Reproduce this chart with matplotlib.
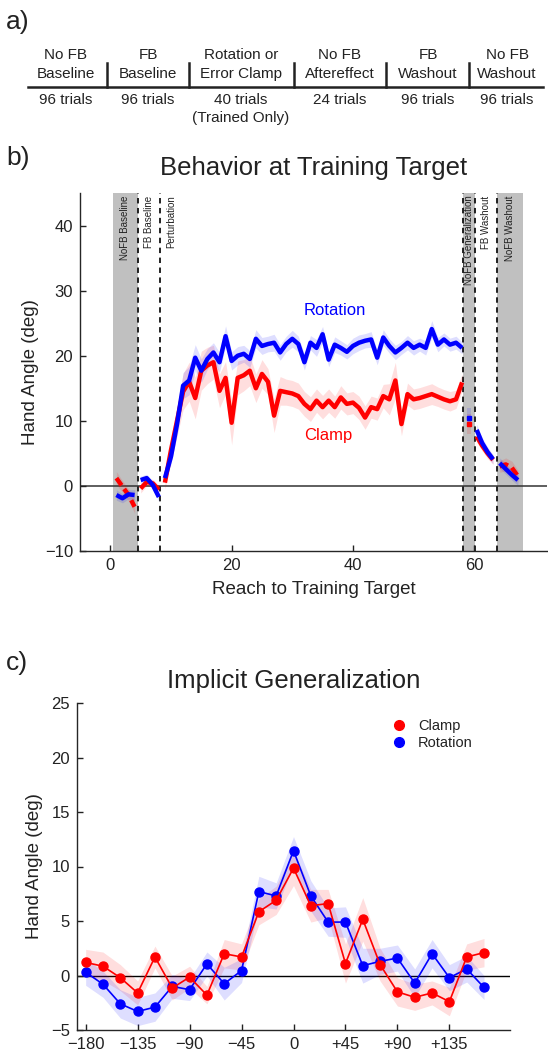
import numpy as np
import matplotlib
matplotlib.use("Agg")
import matplotlib.pyplot as plt
from matplotlib.lines import Line2D

plt.rcParams['font.family'] = ['Liberation Sans', 'DejaVu Sans']
plt.rcParams['text.color'] = '#222222'
plt.rcParams['axes.labelcolor'] = '#222222'
plt.rcParams['xtick.color'] = '#222222'
plt.rcParams['ytick.color'] = '#222222'

W, H = 548, 1055

# --- a) session schedule ---
phase_top = ["No FB", "FB", "Rotation or", "No FB", "FB", "No FB"]
phase_bottom = ["Baseline", "Baseline", "Error Clamp", "Aftereffect", "Washout", "Washout"]
phase_trials = [96, 96, 40, 24, 96, 96]

# --- b) reaches to the training target ---
base_x = [1, 2, 3, 4]
rot_base = [-1.4, -1.9, -1.3, -1.4]
clamp_base = [1.2, -0.1, -1.4, -3.2]
rot_base_sem = [0.8, 0.7, 0.7, 0.8]
clamp_base_sem = [1.0, 0.9, 0.9, 1.0]

fbbase_x = [5, 6, 7, 8]
rot_fbbase = [0.9, 1.2, 0.15, -1.7]
clamp_fbbase = [-0.4, 0.6, 0.4, -0.6]
rot_fbbase_sem = [0.6, 0.6, 0.6, 0.7]
clamp_fbbase_sem = [0.7, 0.6, 0.6, 0.7]

pert_x = np.arange(9, 59)
rot_pert = [1.2, 4.5, 9.5, 15.4, 16.2, 19.7, 17.7, 19.5, 20.5, 19.0,
            23.0, 19.2, 20.0, 20.3, 19.5, 22.6, 21.5, 21.8, 22.0, 20.5,
            21.8, 22.6, 21.8, 19.0, 22.0, 21.2, 23.3, 19.4, 21.7, 21.2,
            20.6, 21.5, 22.0, 22.3, 22.5, 19.7, 22.8, 21.5, 20.5, 21.2,
            22.0, 21.2, 21.7, 21.2, 24.1, 21.7, 22.5, 21.7, 22.0, 21.2]
clamp_pert = [0.5, 5.5, 10.0, 14.5, 16.0, 13.5, 17.7, 18.5, 19.0, 14.6,
              16.6, 9.7, 16.6, 17.0, 17.7, 15.0, 17.2, 16.0, 10.8, 14.6,
              14.4, 14.2, 13.8, 12.6, 11.8, 13.1, 12.1, 13.1, 12.1, 13.6,
              12.6, 12.8, 12.0, 10.5, 12.1, 11.8, 13.8, 13.3, 16.2, 9.5,
              14.1, 13.3, 13.5, 13.8, 14.1, 13.7, 13.3, 13.0, 13.3, 15.9]
rot_pert_sem = [0.8, 1.2, 1.6, 2.0, 2.2, 2.0, 1.8, 1.6, 1.5, 1.5,
                1.6, 1.4, 1.4, 1.3, 1.3, 1.4, 1.3, 1.2, 1.3, 1.2,
                1.2, 1.3, 1.2, 1.2, 1.1, 1.3, 1.2, 1.1, 1.2, 1.1,
                1.1, 1.2, 1.2, 1.1, 1.2, 1.1, 1.2, 1.1, 1.1, 1.0,
                1.1, 1.1, 1.0, 1.1, 1.3, 1.1, 1.0, 1.0, 1.0, 0.9]
clamp_pert_sem = [1.0, 1.8, 2.4, 2.8, 3.0, 3.2, 3.0, 2.8, 2.6, 2.6,
                  2.5, 3.4, 2.6, 2.4, 2.3, 2.2, 2.2, 2.0, 2.6, 2.2,
                  2.0, 2.0, 2.0, 1.9, 1.9, 1.8, 1.8, 1.8, 1.7, 1.8,
                  1.7, 1.7, 1.8, 1.8, 1.7, 1.7, 1.8, 2.4, 2.8, 1.8,
                  1.7, 1.6, 1.6, 1.6, 1.6, 1.5, 1.5, 1.5, 1.4, 1.3]

gen_x = 59.1
rot_gen, rot_gen_sem = 10.5, 1.5
clamp_gen, clamp_gen_sem = 9.5, 1.5

wash_x = [60.4, 61.3, 62.2, 63.1]
rot_wash = [8.6, 6.6, 5.2, 4.1]
clamp_wash = [7.6, 6.2, 5.0, 4.0]
rot_wash_sem = [0.9, 0.8, 0.8, 0.7]
clamp_wash_sem = [0.9, 0.8, 0.8, 0.7]

nofbwash_x = [64.2, 65.2, 66.2, 67.2]
rot_nofbwash = [3.5, 2.6, 1.7, 0.9]
clamp_nofbwash = [3.0, 3.3, 2.8, 1.5]
rot_nofbwash_sem = [0.8, 0.8, 0.8, 0.8]
clamp_nofbwash_sem = [0.9, 1.0, 1.0, 0.9]

shaded_blocks = [(0.4, 4.5), (58.1, 60.1), (63.8, 68.0)]
block_edges = [4.5, 8.2, 58.1, 60.1, 63.8]
block_labels = ["NoFB Baseline", "FB Baseline", "Perturbation",
                "NoFB Generalization", "FB Washout", "NoFB Washout"]
block_label_x = [2.4, 6.3, 10.0, 59.1, 61.9, 65.9]

# --- c) generalization across probe targets ---
probe_angle = np.arange(-180, 180, 15)
clamp_probe = [1.2, 0.85, -0.2, -1.6, 1.7, -1.15, -0.15, -1.8, 2.0, 1.7, 5.85, 6.9,
               9.85, 6.4, 6.6, 1.1, 5.15, 1.0, -1.5, -2.0, -1.6, -2.4, 1.7, 2.1]
rot_probe = [0.3, -0.8, -2.6, -3.3, -2.9, -1.0, -1.3, 1.06, -0.75, 0.45, 7.7, 7.3,
             11.45, 7.3, 4.9, 4.9, 0.9, 1.3, 1.6, -0.7, 2.0, -0.2, 0.6, -1.1]
clamp_probe_sem = [1.2, 1.3, 1.2, 1.1, 1.0, 1.1, 1.0, 0.8, 1.3, 1.2, 1.2, 1.3,
                   1.6, 1.5, 1.3, 1.8, 2.0, 1.5, 1.3, 1.2, 1.1, 1.3, 1.2, 1.3]
rot_probe_sem = [1.2, 1.2, 1.3, 1.3, 1.3, 1.1, 1.0, 1.1, 1.5, 1.1, 1.4, 1.2,
                 1.3, 1.4, 1.3, 1.4, 1.6, 1.2, 1.2, 1.3, 1.3, 1.2, 1.2, 1.1]
probe_ticks = [-180, -135, -90, -45, 0, 45, 90, 135]
probe_ticklabels = ["\u2212180", "\u2212135", "\u221290", "\u221245", "0", "+45", "+90", "+135"]

RED = '#ff0000'
BLUE = '#0000ff'


def fx(px):
    return px / W


def fy(py):
    return 1 - py / H


def style_axes(ax):
    for s in ['top', 'right']:
        ax.spines[s].set_visible(False)
    for s in ['left', 'bottom']:
        ax.spines[s].set_linewidth(1.0)
        ax.spines[s].set_color('#262626')
    ax.tick_params(direction='in', length=4, width=1, labelsize=12, pad=5)


def band(ax, x, y, e, color, alpha=0.13):
    y = np.asarray(y, dtype=float)
    e = np.asarray(e, dtype=float)
    ax.fill_between(x, y - e, y + e, color=color, alpha=alpha, lw=0, zorder=2)


fig = plt.figure(figsize=(W / 100, H / 100), dpi=100)

# panel a: table of phases
fig.text(fx(6), fy(22), "a)", fontsize=19, va='center', ha='left')
col_x = [66, 148, 241, 340, 428, 507]
for i, c in enumerate(col_x):
    fig.text(fx(c), fy(55), phase_top[i], ha='center', va='center', fontsize=11)
    fig.text(fx(c), fy(74), phase_bottom[i], ha='center', va='center', fontsize=11)
    fig.text(fx(c), fy(100), f"{phase_trials[i]} trials", ha='center', va='center', fontsize=11)
fig.text(fx(col_x[2]), fy(118), "(Trained Only)", ha='center', va='center', fontsize=11)
fig.add_artist(Line2D([fx(28), fx(543)], [fy(87), fy(87)], color='#222222', lw=1.8))
for sx in [107, 189, 294, 386, 469]:
    fig.add_artist(Line2D([fx(sx), fx(sx)], [fy(63), fy(87)], color='#222222', lw=1.8))

# panel b
fig.text(fx(6), fy(158), "b)", fontsize=19, va='center', ha='left')
axb = fig.add_axes([fx(80), fy(551), fx(547) - fx(80), (551 - 193) / H])
style_axes(axb)
for a, b in shaded_blocks:
    axb.axvspan(a, b, color='#c0c0c0', lw=0, zorder=0)
for e in block_edges:
    axb.axvline(e, color='#111111', lw=1.3, ls=(0, (3, 2.5)), zorder=1)
axb.axhline(0, color='#333333', lw=1.1, zorder=1)
for lab, xpos in zip(block_labels, block_label_x):
    axb.text(xpos, 44.6, lab, rotation=90, ha='center', va='top', fontsize=7)

segments = [
    (base_x, clamp_base, clamp_base_sem, rot_base, rot_base_sem, True),
    (fbbase_x, clamp_fbbase, clamp_fbbase_sem, rot_fbbase, rot_fbbase_sem, False),
    (pert_x, clamp_pert, clamp_pert_sem, rot_pert, rot_pert_sem, False),
    (wash_x, clamp_wash, clamp_wash_sem, rot_wash, rot_wash_sem, False),
    (nofbwash_x, clamp_nofbwash, clamp_nofbwash_sem, rot_nofbwash, rot_nofbwash_sem, True),
]
for x, cy, ce, ry, re_, nofb in segments:
    band(axb, x, cy, ce, RED)
    band(axb, x, ry, re_, BLUE)
    axb.plot(x, cy, color=RED, lw=3.2, zorder=3,
             ls=(0, (2, 1)) if nofb else '-', solid_capstyle='butt')
    axb.plot(x, ry, color=BLUE, lw=3.2, zorder=4, solid_capstyle='butt')

gx = [gen_x - 0.35, gen_x + 0.35]
band(axb, gx, [clamp_gen, clamp_gen], [clamp_gen_sem, clamp_gen_sem], RED)
band(axb, gx, [rot_gen, rot_gen], [rot_gen_sem, rot_gen_sem], BLUE)
axb.plot([gen_x], [clamp_gen], 's', color=RED, ms=2.5, zorder=3)
axb.plot([gen_x], [rot_gen], 's', color=BLUE, ms=2.5, zorder=4)

axb.text(37, 27, "Rotation", color=BLUE, fontsize=12, ha='center', va='center')
axb.text(36, 7.8, "Clamp", color=RED, fontsize=12, ha='center', va='center')

axb.set_xlim(-5, 72)
axb.set_ylim(-10, 45)
axb.set_xticks([0, 20, 40, 60])
axb.set_yticks([-10, 0, 10, 20, 30, 40])
axb.set_xlabel("Reach to Training Target", fontsize=13.5, labelpad=6)
axb.set_ylabel("Hand Angle (deg)", fontsize=13.5, labelpad=4)
axb.set_title("Behavior at Training Target", fontsize=18.5, pad=13)

# panel c
fig.text(fx(6), fy(663), "c)", fontsize=19, va='center', ha='left')
axc = fig.add_axes([fx(77), fy(1030), fx(510) - fx(77), (1030 - 703) / H])
style_axes(axc)
axc.axhline(0, color='black', lw=1.0, zorder=1)
band(axc, probe_angle, clamp_probe, clamp_probe_sem, RED)
band(axc, probe_angle, rot_probe, rot_probe_sem, BLUE)
axc.plot(probe_angle, rot_probe, '-o', color=BLUE, lw=1.2, ms=6.5, zorder=3)
axc.plot(probe_angle, clamp_probe, '-o', color=RED, lw=1.2, ms=6.5, zorder=4)

handles = [Line2D([], [], ls='', marker='o', color=RED, ms=7),
           Line2D([], [], ls='', marker='o', color=BLUE, ms=7)]
axc.legend(handles, ["Clamp", "Rotation"], loc='upper left', bbox_to_anchor=(0.68, 0.99),
           frameon=False, fontsize=10.5, handletextpad=0.3, labelspacing=0.2)

axc.set_xlim(-187.5, 187.5)
axc.set_ylim(-5, 25)
axc.set_xticks(probe_ticks)
axc.set_xticklabels(probe_ticklabels)
axc.set_yticks([-5, 0, 5, 10, 15, 20, 25])
axc.set_ylabel("Hand Angle (deg)", fontsize=13.5, labelpad=6)
axc.set_title("Implicit Generalization", fontsize=18.5, pad=11)

fig.savefig("out.png", dpi=100)
